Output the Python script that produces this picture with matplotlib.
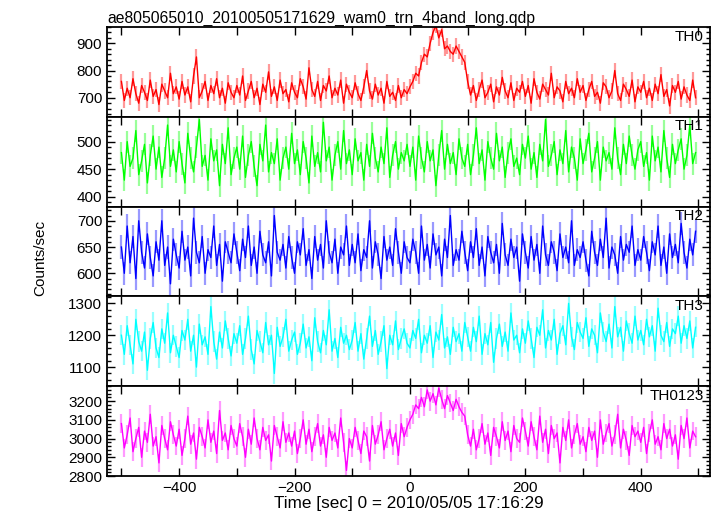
import numpy as np
import matplotlib
matplotlib.use("Agg")
import matplotlib.pyplot as plt
from matplotlib.ticker import MultipleLocator

plt.rcParams['font.family'] = ['Liberation Sans', 'DejaVu Sans']

# 5 s bins, t = -500 ... 495
t_start = -500
bin_size = 5

th0 = [760, 690, 735, 700, 770, 715, 680, 745, 720, 690, 765, 705, 730, 675, 750, 725, 700, 790, 715, 740,
       695, 760, 710, 740, 685, 780, 850, 700, 725, 760, 690, 745, 715, 770, 700, 735, 680, 755, 720, 700,
       745, 710, 780, 690, 725, 760, 700, 735, 675, 750, 720, 795, 705, 740, 690, 765, 715, 730, 685, 755,
       720, 700, 770, 740, 695, 810, 730, 705, 760, 690, 745, 725, 780, 700, 735, 710, 765, 680, 750, 720,
       700, 755, 715, 690, 740, 800, 725, 695, 750, 710, 735, 680, 760, 705, 720, 690, 745, 700, 730, 715,
       740, 760, 790, 780, 830, 860, 850, 900, 940, 965, 920, 950, 880, 890, 870, 860, 890, 870, 850, 830,
       760, 710, 745, 690, 730, 765, 700, 720, 750, 685, 740, 710, 775, 725, 700, 755, 690, 735, 720, 760,
       705, 745, 680, 770, 720, 695, 750, 730, 710, 790, 700, 740, 725, 685, 760, 715, 735, 700, 770, 720,
       745, 690, 730, 760, 705, 720, 680, 755, 740, 700, 725, 800, 715, 690, 750, 730, 705, 765, 685, 740,
       720, 760, 700, 735, 690, 750, 715, 785, 705, 730, 670, 745, 720, 760, 695, 740, 710, 690, 765, 700]

th1 = [480, 430, 500, 455, 470, 520, 440, 465, 495, 425, 475, 510, 450, 490, 435, 470, 530, 455, 485, 445,
       500, 460, 425, 515, 470, 445, 490, 540, 455, 475, 430, 505, 465, 485, 420, 495, 460, 525, 440, 470,
       490, 450, 510, 435, 475, 500, 455, 420, 495, 465, 530, 445, 480, 460, 505, 430, 470, 490, 450, 515,
       460, 485, 440, 500, 470, 425, 510, 455, 480, 445, 535, 465, 490, 430, 475, 500, 450, 520, 460, 485,
       440, 505, 465, 480, 430, 495, 455, 515, 470, 445, 490, 460, 525, 435, 475, 500, 450, 480, 465, 495,
       455, 490, 430, 510, 470, 445, 500, 465, 485, 420, 475, 520, 450, 495, 460, 480, 440, 505, 470, 455,
       495, 440, 475, 525, 460, 485, 430, 500, 470, 450, 515, 465, 490, 435, 480, 505, 455, 470, 440, 495,
       470, 510, 450, 480, 435, 495, 465, 540, 455, 475, 500, 440, 485, 460, 520, 445, 490, 470, 430, 505,
       460, 485, 515, 445, 470, 500, 430, 490, 465, 480, 450, 525, 470, 440, 495, 460, 510, 475, 450, 485,
       500, 455, 480, 430, 510, 465, 490, 445, 520, 470, 435, 495, 460, 485, 505, 450, 475, 530, 460, 480]

th2 = [650, 600, 690, 620, 670, 590, 700, 640, 610, 675, 630, 595, 660, 625, 700, 615, 650, 580, 665, 635,
       610, 680, 625, 650, 595, 705, 640, 620, 670, 600, 645, 630, 690, 615, 655, 585, 660, 640, 620, 675,
       640, 605, 665, 630, 690, 615, 650, 600, 680, 635, 620, 660, 595, 710, 640, 625, 655, 610, 670, 630,
       600, 660, 635, 685, 615, 645, 590, 670, 625, 655, 610, 700, 640, 620, 665, 600, 650, 635, 690, 615,
       655, 620, 675, 605, 645, 630, 700, 610, 660, 635, 590, 670, 625, 650, 615, 685, 640, 600, 660, 630,
       620, 665, 640, 600, 690, 625, 655, 610, 675, 635, 650, 595, 665, 630, 710, 615, 645, 625, 680, 640,
       605, 660, 630, 685, 615, 650, 595, 670, 640, 620, 655, 600, 695, 635, 615, 665, 630, 650, 585, 675,
       640, 610, 670, 625, 655, 600, 690, 635, 615, 660, 640, 605, 675, 630, 650, 620, 700, 615, 645, 630,
       660, 625, 595, 680, 640, 615, 665, 630, 705, 610, 650, 635, 600, 670, 625, 655, 640, 690, 615, 645,
       625, 670, 640, 605, 660, 635, 690, 615, 650, 600, 675, 630, 655, 620, 695, 640, 610, 665, 635, 680]

th3 = [1200, 1140, 1230, 1170, 1110, 1250, 1180, 1150, 1210, 1090, 1190, 1240, 1160, 1130, 1220, 1175, 1270, 1145, 1200, 1165,
       1130, 1215, 1185, 1250, 1150, 1200, 1100, 1235, 1170, 1195, 1140, 1290, 1180, 1125, 1210, 1160, 1245, 1190, 1135, 1205,
       1175, 1230, 1140, 1190, 1260, 1155, 1110, 1215, 1180, 1145, 1240, 1170, 1200, 1080, 1225, 1165, 1195, 1250, 1150, 1185,
       1210, 1140, 1175, 1235, 1160, 1195, 1120, 1255, 1180, 1145, 1215, 1170, 1280, 1150, 1190, 1130, 1225, 1175, 1200, 1155,
       1185, 1240, 1150, 1205, 1125, 1190, 1260, 1165, 1215, 1140, 1180, 1230, 1095, 1200, 1170, 1245, 1155, 1190, 1220, 1175,
       1160, 1215, 1190, 1250, 1145, 1200, 1175, 1230, 1130, 1210, 1185, 1265, 1160, 1195, 1140, 1225, 1180, 1205, 1150, 1240,
       1195, 1150, 1225, 1180, 1260, 1140, 1205, 1170, 1240, 1115, 1190, 1235, 1165, 1210, 1150, 1270, 1185, 1200, 1145, 1220,
       1175, 1245, 1190, 1130, 1225, 1200, 1280, 1160, 1215, 1185, 1250, 1140, 1205, 1230, 1170, 1300, 1195, 1155, 1240, 1210,
       1190, 1255, 1165, 1220, 1200, 1145, 1270, 1210, 1180, 1235, 1160, 1290, 1195, 1225, 1150, 1245, 1205, 1175, 1260, 1185,
       1215, 1170, 1250, 1195, 1230, 1150, 1285, 1200, 1180, 1240, 1165, 1220, 1205, 1260, 1175, 1230, 1190, 1245, 1160, 1225]

th0123 = [3080, 2950, 3020, 3110, 2930, 3000, 3060, 2900, 3040, 2980, 3130, 2960, 3010, 2870, 3070, 3000, 2940, 3090, 3020, 2960,
          3050, 2910, 3000, 3120, 2970, 3030, 2890, 3060, 3010, 2950, 3100, 2980, 3040, 2920, 3150, 2990, 3030, 2940, 3070, 3000,
          2960, 3080, 3010, 2900, 3050, 2970, 3110, 3000, 2940, 3060, 2990, 3020, 2880, 3070, 3010, 2950, 3090, 2980, 3030, 2960,
          3040, 2920, 3000, 3100, 2970, 3050, 2930, 3010, 3080, 2960, 3020, 2900, 3060, 2990, 3030, 2950, 3110, 2980, 2830, 3000,
          2950, 3060, 2990, 2920, 3040, 3010, 2880, 3070, 2970, 3020, 3090, 2940, 3000, 3050, 2960, 3030, 2910, 3080, 3010, 3060,
          3100, 3130, 3180, 3160, 3220, 3170, 3260, 3200, 3240, 3180, 3270, 3210, 3160, 3230, 3190, 3150, 3210, 3170, 3140, 3120,
          3020, 2960, 3050, 2940, 3000, 3080, 2970, 3030, 2910, 3060, 3010, 2950, 3090, 2990, 3040, 2930, 3070, 3000, 2980, 3110,
          3040, 2960, 3090, 3010, 2940, 3120, 2980, 3050, 2920, 3070, 3000, 3030, 2870, 3060, 2990, 3100, 2950, 3020, 3080, 2970,
          3010, 2930, 3060, 2990, 3040, 2900, 3100, 2970, 3030, 3080, 2960, 3020, 3130, 2950, 3050, 2990, 2910, 3070, 3010, 3040,
          2980, 3060, 2920, 3030, 3100, 2970, 3010, 2940, 3080, 3000, 3050, 2960, 3020, 2890, 3070, 3000, 3110, 2950, 3040, 3010]

series = [th0, th1, th2, th3, th0123]
names = ["TH0", "TH1", "TH2", "TH3", "TH0123"]
errors = [28, 20, 22, 32, 50]
colors = ["#ff0000", "#00ff00", "#0000ff", "#00ffff", "#ff00ff"]
ylims = [(630, 960), (382, 545), (556, 727), (1040, 1322), (2800, 3280)]
ymajor = [100, 50, 50, 100, 100]
yminor = [20, 10, 10, 20, 20]

fig = plt.figure(figsize=(7.17, 5.16), dpi=100)
left, right = 107 / 717, 710 / 717
top, bottom = 1 - 27 / 516, 1 - 476 / 516
h = (top - bottom) / 5

for k, (y, name) in enumerate(zip(series, names)):
    y = np.array(y)
    t = t_start + bin_size * np.arange(len(y))
    ax = fig.add_axes([left, top - (k + 1) * h, right - left, h])
    # light error bars under the curve, like qdp
    ax.errorbar(t, y, yerr=errors[k], fmt='none', ecolor=colors[k], alpha=0.4, lw=1.6)
    ax.plot(t, y, color=colors[k], lw=1.0)
    ax.set_xlim(-525, 520)
    ax.set_ylim(*ylims[k])
    ax.xaxis.set_major_locator(MultipleLocator(200))
    ax.xaxis.set_minor_locator(MultipleLocator(100))
    ax.yaxis.set_major_locator(MultipleLocator(ymajor[k]))
    ax.yaxis.set_minor_locator(MultipleLocator(yminor[k]))
    ax.tick_params(which='both', direction='in', top=True, right=True, labelsize=11)
    ax.tick_params(axis='x', which='both', length=6, width=1)
    ax.tick_params(axis='y', which='major', length=6, width=1)
    ax.tick_params(axis='y', which='minor', length=3, width=1)
    for s in ax.spines.values():
        s.set_linewidth(1.3)
    if k < 4:
        ax.tick_params(axis='x', labelbottom=False)
    ax.text(0.99, 0.97, name, transform=ax.transAxes, ha='right', va='top', fontsize=11)
    if k == 0:
        ax.set_title("ae805065010_20100505171629_wam0_trn_4band_long.qdp",
                     loc='left', fontsize=11.3, pad=3)
    if k == 4:
        ax.set_xlabel("Time [sec] 0 = 2010/05/05 17:16:29", fontsize=12.3, labelpad=1)

fig.text(40 / 717, 0.5, "Counts/sec", rotation=90, va='center', ha='center', fontsize=11)

fig.savefig("out.png", dpi=100)
